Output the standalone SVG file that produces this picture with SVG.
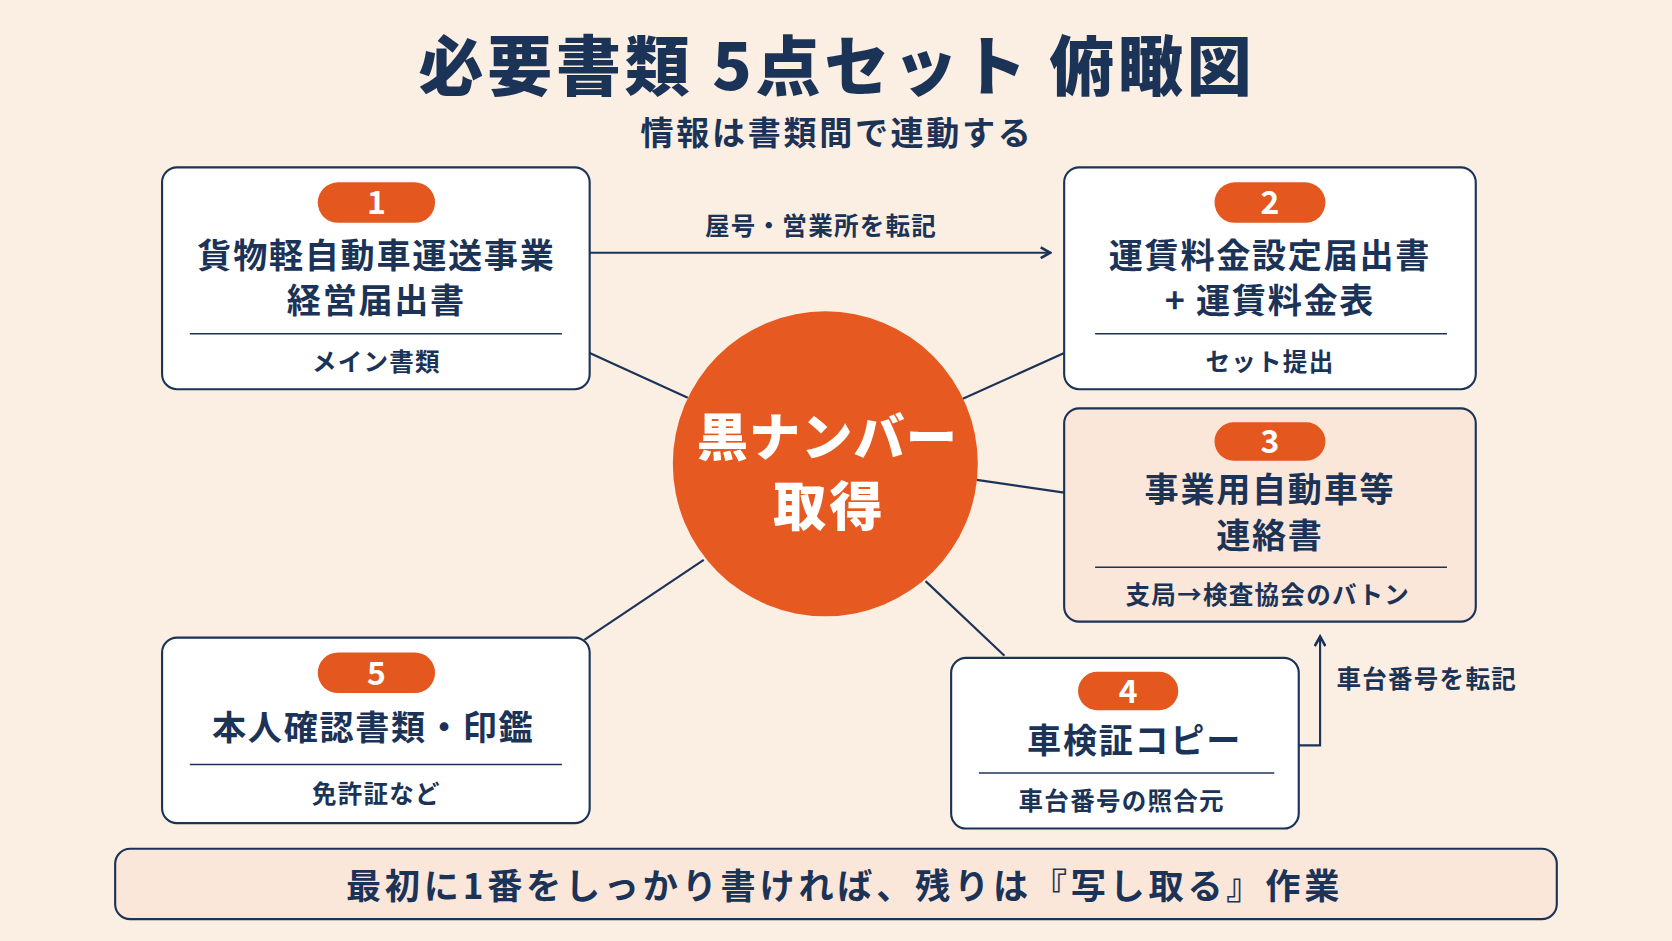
<svg xmlns="http://www.w3.org/2000/svg" width="1672" height="941" viewBox="0 0 1672 941">
<style>
text{font-family:"Noto Sans CJK JP","Noto Sans",sans-serif;font-weight:700;fill:#1b3356;text-anchor:middle}
.box{fill:#fff;stroke:#1b3356;stroke-width:2}
.box3{fill:#fbe6da;stroke:#1b3356;stroke-width:2}
.pill{fill:#e4571f}
.num{fill:#fff;font-size:30px}
.t{font-size:32px;letter-spacing:1.6px}
.s{font-size:23px;letter-spacing:1.2px}
.div{stroke:#1b3356;stroke-width:1.5}
.con{stroke:#1b3356;stroke-width:2;fill:none}
</style>
<defs><marker id="ah" markerWidth="12" markerHeight="12" refX="10" refY="6" orient="auto" markerUnits="userSpaceOnUse"><path d="M1,1 L10,6 L1,11" fill="none" stroke="#1b3356" stroke-width="2.5"/></marker></defs>
<rect width="1672" height="941" fill="#fbeee2"/>
<g transform="scale(1.0663)">
<text x="785" y="84" style="font-size:61px;font-weight:900;letter-spacing:3.5px">必要書類 5点セット 俯瞰図</text>
<text x="785" y="136" style="font-size:31px;letter-spacing:2.5px">情報は書類間で連動する</text>
<g id="connectors">
<line class="con" x1="553" y1="331" x2="645" y2="373"/>
<line class="con" x1="998" y1="331" x2="903" y2="374"/>
<line class="con" x1="916" y1="450" x2="998" y2="462"/>
<line class="con" x1="660" y1="525" x2="548" y2="600"/>
<line class="con" x1="868" y1="545" x2="942" y2="615"/>
<line class="con" x1="553" y1="237" x2="985" y2="237" marker-end="url(#ah)"/>
<text x="770" y="220" class="s">屋号・営業所を転記</text>
<polyline class="con" points="1218,699 1238,699 1238,597" marker-end="url(#ah)"/>
<text x="1338" y="645" class="s">車台番号を転記</text>
</g>
<g id="center"><circle cx="774" cy="435" r="143" fill="#e65a22"/>
<text x="776" y="428" style="fill:#fff;font-size:48px;font-weight:900;letter-spacing:1px">黒ナンバー</text>
<text x="778" y="493" style="fill:#fff;font-size:50px;font-weight:900;letter-spacing:3px">取得</text></g>
<g id="n1"><rect class="box" x="152" y="157" width="401" height="208" rx="14"/>
<rect class="pill" x="298" y="171" width="110" height="38" rx="19"/><text x="353" y="201" class="num">1</text>
<text x="353" y="251" class="t">貨物軽自動車運送事業</text><text x="353" y="294" class="t">経営届出書</text>
<line class="div" x1="178" y1="313" x2="527" y2="313"/><text x="353" y="348" class="s">メイン書類</text></g>
<g id="n2"><rect class="box" x="998" y="157" width="386" height="208" rx="14"/>
<rect class="pill" x="1139" y="171" width="104" height="38" rx="19"/><text x="1191" y="201" class="num">2</text>
<text x="1191" y="251" class="t">運賃料金設定届出書</text><text x="1191" y="294" class="t">+ 運賃料金表</text>
<line class="div" x1="1027" y1="313" x2="1357" y2="313"/><text x="1191" y="348" class="s">セット提出</text></g>
<g id="n3"><rect class="box3" x="998" y="383" width="386" height="200" rx="14"/>
<rect class="pill" x="1139" y="396" width="104" height="36" rx="18"/><text x="1191" y="425" class="num">3</text>
<text x="1191" y="471" class="t">事業用自動車等</text><text x="1191" y="514" class="t">連絡書</text>
<line class="div" x1="1027" y1="532" x2="1357" y2="532"/><text x="1189" y="566" class="s">支局→検査協会のバトン</text></g>
<g id="n4"><rect class="box" x="892" y="617" width="326" height="160" rx="14"/>
<rect class="pill" x="1011" y="630" width="94" height="36" rx="18"/><text x="1058" y="659" class="num">4</text>
<text x="1064" y="706" class="t">車検証コピー</text>
<line class="div" x1="918" y1="725" x2="1195" y2="725"/><text x="1052" y="760" class="s">車台番号の照合元</text></g>
<g id="n5"><rect class="box" x="152" y="598" width="401" height="174" rx="14"/>
<rect class="pill" x="298" y="612" width="110" height="38" rx="19"/><text x="353" y="642" class="num">5</text>
<text x="350" y="694" class="t">本人確認書類・印鑑</text>
<line class="div" x1="178" y1="717" x2="527" y2="717"/><text x="353" y="753" class="s">免許証など</text></g>
<g id="footer"><rect x="108" y="796" width="1352" height="66" rx="14" fill="#fbe6da" stroke="#1b3356" stroke-width="2"/>
<text x="792" y="843" style="font-size:33px;letter-spacing:3.5px">最初に1番をしっかり書ければ、残りは『写し取る』作業</text></g>
</g>
</svg>
